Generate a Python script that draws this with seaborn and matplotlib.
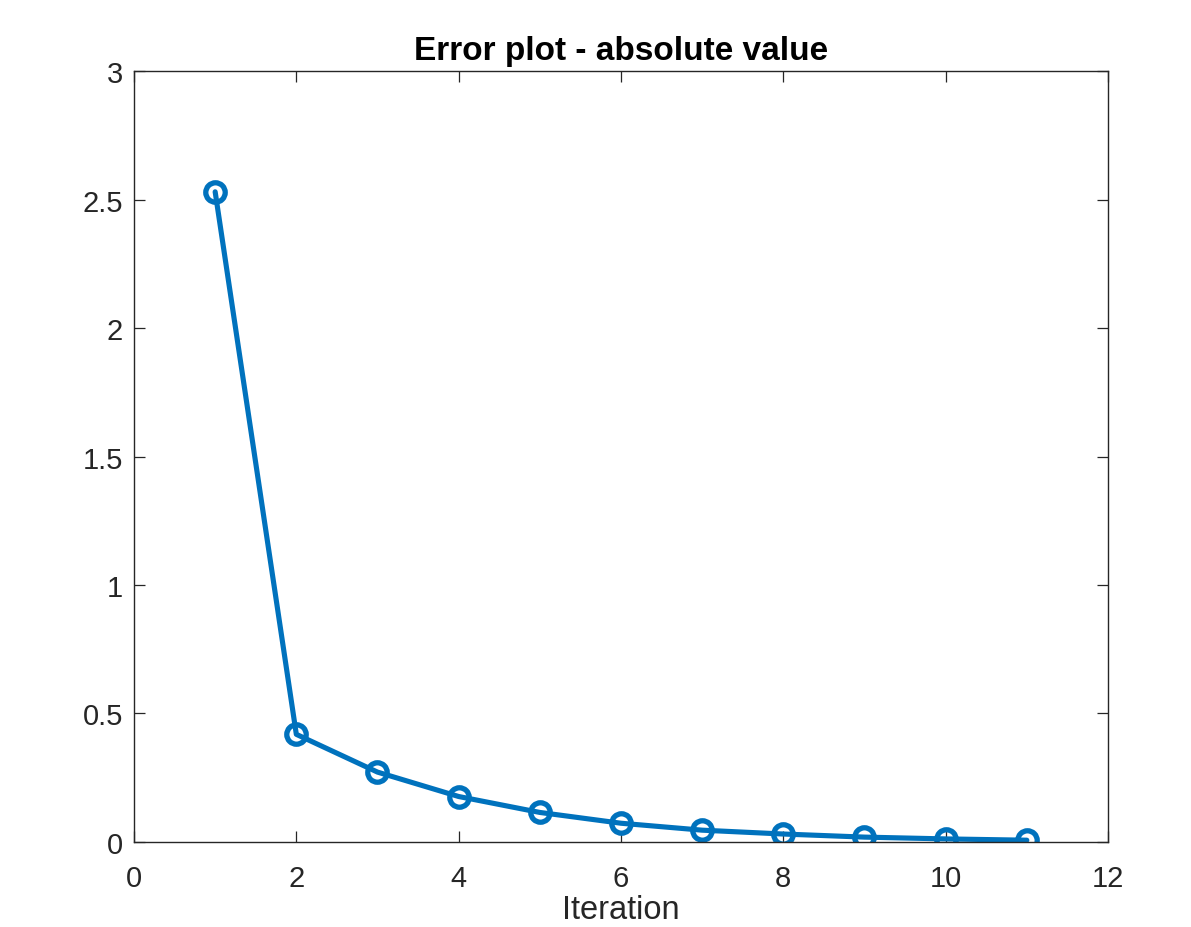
import matplotlib
matplotlib.use("Agg")
import matplotlib.pyplot as plt
import seaborn as sns
import pandas as pd

iterations = [1, 2, 3, 4, 5, 6, 7, 8, 9, 10, 11]
abs_error = [2.53, 0.419, 0.272, 0.177, 0.115, 0.073, 0.046, 0.031, 0.019, 0.012, 0.007]
x_ticks = [0, 2, 4, 6, 8, 10, 12]
y_ticks = [0, 0.5, 1, 1.5, 2, 2.5, 3]
y_tick_labels = ["0", "0.5", "1", "1.5", "2", "2.5", "3"]

sns.set_theme(style="white")
plt.rcParams['font.family'] = ['Liberation Sans', 'DejaVu Sans']

df = pd.DataFrame({"Iteration": iterations, "Error": abs_error})

fig = plt.figure(figsize=(11.91, 9.28), dpi=100)
ax = fig.add_axes([0.1125, 0.0916, 0.8178, 0.8308])

color = "#0072BD"
sns.lineplot(data=df, x="Iteration", y="Error", ax=ax, color=color,
             marker="o", markersize=14, markerfacecolor="none",
             markeredgecolor=color, markeredgewidth=3.8, linewidth=3.7)

ax.set_xlim(0, 12)
ax.set_ylim(0, 3)
ax.set_xticks(x_ticks)
ax.set_xticklabels([str(t) for t in x_ticks])
ax.set_yticks(y_ticks)
ax.set_yticklabels(y_tick_labels)

dark = "#262626"
for s in ax.spines.values():
    s.set_visible(True)
    s.set_color(dark)
    s.set_linewidth(1.0)
ax.tick_params(axis="both", direction="in", length=8, width=0.9, colors=dark,
               labelsize=21, top=True, right=True, bottom=True, left=True)
ax.tick_params(axis="x", pad=16)
ax.tick_params(axis="y", pad=8)
ax.set_xlabel("Iteration", fontsize=23.5, color=dark, labelpad=1.5)
ax.set_ylabel("")
ax.set_title("Error plot - absolute value", fontsize=24, fontweight="bold", color="black", pad=9)
ax.grid(False)

fig.savefig("out.png", dpi=100, facecolor="white")
